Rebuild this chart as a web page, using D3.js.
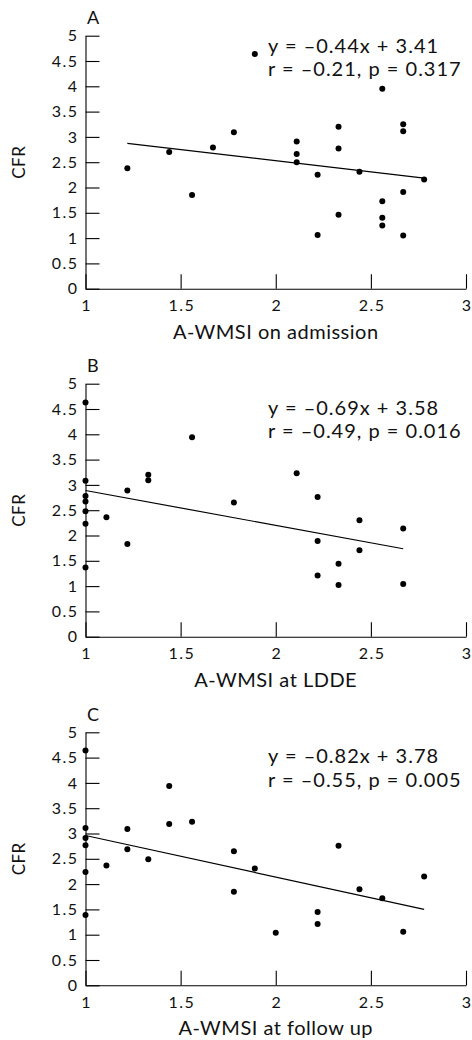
<!DOCTYPE html>
<html>
<head>
<meta charset="utf-8">
<script src="https://cdn.jsdelivr.net/npm/d3@7"></script>
<style>
  body { margin: 0; background: #fff; }
  svg { display: block; font-family: Lato, "Noto Sans", sans-serif; }
</style>
</head>
<body>
<script>
// CFR against A-WMSI, three time points
const panelLetters = ["A", "B", "C"];
const xTitles = ["A-WMSI on admission", "A-WMSI at LDDE", "A-WMSI at follow up"];
const yTitle = "CFR";
const xTicks = [1, 1.5, 2, 2.5, 3];
const yTicks = [0, 0.5, 1, 1.5, 2, 2.5, 3, 3.5, 4, 4.5, 5];

const admissionX = [1.22, 1.44, 1.56, 1.67, 1.78, 1.89, 2.11, 2.11, 2.11, 2.22, 2.22, 2.33, 2.33, 2.33, 2.44, 2.56, 2.56, 2.56, 2.56, 2.67, 2.67, 2.67, 2.67, 2.78];
const admissionCFR = [2.38, 2.70, 1.85, 2.79, 3.09, 4.64, 2.91, 2.66, 2.50, 2.25, 1.06, 3.20, 2.77, 1.46, 2.31, 3.95, 1.73, 1.40, 1.25, 3.25, 3.11, 1.91, 1.05, 2.16];

const lddeX = [1, 1, 1, 1, 1, 1, 1, 1.11, 1.22, 1.22, 1.33, 1.33, 1.56, 1.78, 2.11, 2.22, 2.22, 2.22, 2.33, 2.33, 2.44, 2.44, 2.67, 2.67];
const lddeCFR = [4.63, 3.08, 2.78, 2.67, 2.48, 2.23, 1.37, 2.36, 2.89, 1.83, 3.20, 3.09, 3.94, 2.65, 3.23, 2.76, 1.89, 1.21, 1.44, 1.02, 2.30, 1.71, 2.14, 1.04];

const followX = [1, 1, 1, 1, 1, 1, 1.11, 1.22, 1.22, 1.33, 1.44, 1.44, 1.56, 1.78, 1.78, 1.89, 2.00, 2.22, 2.22, 2.33, 2.44, 2.56, 2.67, 2.78];
const followCFR = [4.64, 3.11, 2.91, 2.77, 2.24, 1.39, 2.37, 3.09, 2.69, 2.49, 3.94, 3.19, 3.23, 2.65, 1.85, 2.31, 1.04, 1.45, 1.21, 2.76, 1.90, 1.72, 1.06, 2.15];

const slopes = [-0.44, -0.69, -0.82];
const intercepts = [3.41, 3.58, 3.78];
const fitText = ["y = \u20130.44x + 3.41", "y = \u20130.69x + 3.58", "y = \u20130.82x + 3.78"];
const statText = ["r = \u20130.21, p = 0.317", "r = \u20130.49, p = 0.016", "r = \u20130.55, p = 0.005"];

const xsAll = [admissionX, lddeX, followX];
const ysAll = [admissionCFR, lddeCFR, followCFR];

const width = 472, height = 1040;
const left = 85.5, right = 466;
const bottoms = [288.7, 636.7, 985.3];
const plotH = 253;
const noteOffset = [17, 31, 31];

const svg = d3.select("body").append("svg")
  .attr("width", width)
  .attr("height", height);

panelLetters.forEach((letter, i) => {
  const y0 = bottoms[i];
  const x = d3.scaleLinear().domain([1, 3]).range([left, right]);
  const y = d3.scaleLinear().domain([0, 5]).range([y0, y0 - plotH]);
  const g = svg.append("g");

  const yAxis = g.append("g")
    .attr("transform", `translate(${left},0)`)
    .call(d3.axisLeft(y).tickValues(yTicks).tickSizeInner(-14).tickSizeOuter(0)
      .tickPadding(7).tickFormat(d3.format("")));
  const xAxis = g.append("g")
    .attr("transform", `translate(0,${y0})`)
    .call(d3.axisBottom(x).tickValues(xTicks).tickSizeInner(-14.5).tickSizeOuter(0)
      .tickFormat(d3.format("")));

  [yAxis, xAxis].forEach(a => {
    a.selectAll("path, line").attr("stroke", "#000").attr("stroke-width", 1.1);
    a.selectAll("text")
      .attr("fill", "#111")
      .style("font-size", "16px")
      .style("letter-spacing", "1.5px")
      .style("font-family", "Lato, sans-serif");
  });
  xAxis.selectAll(".tick text").attr("y", 22.5).attr("dy", null).attr("dx", 0.75);

  // regression line over the data range
  const xs = xsAll[i], ys = ysAll[i];
  const [xmin, xmax] = d3.extent(xs);
  g.append("line")
    .attr("x1", x(xmin)).attr("y1", y(slopes[i] * xmin + intercepts[i]))
    .attr("x2", x(xmax)).attr("y2", y(slopes[i] * xmax + intercepts[i]))
    .attr("stroke", "#000")
    .attr("stroke-width", 1.2);

  g.selectAll("circle")
    .data(xs.map((v, j) => [v, ys[j]]))
    .enter()
    .append("circle")
    .attr("cx", d => x(d[0]))
    .attr("cy", d => y(d[1]))
    .attr("r", 3)
    .attr("fill", "#000");

  g.append("text")
    .attr("x", 87)
    .attr("y", y(5) - 11.5)
    .style("font-size", "18px")
    .attr("fill", "#111")
    .text(letter);

  const note = g.append("text")
    .attr("x", 268)
    .attr("y", y(5) + noteOffset[i])
    .style("font-size", "20px")
    .style("letter-spacing", "1px")
    .attr("fill", "#111");
  note.append("tspan").attr("x", 268).text(fitText[i]);
  note.append("tspan").attr("x", 268).attr("dy", 23.3).text(statText[i]);

  g.append("text")
    .attr("x", (left + right) / 2)
    .attr("y", y0 + 50)
    .attr("text-anchor", "middle")
    .style("font-size", "20px")
    .style("letter-spacing", "0.5px")
    .attr("fill", "#111")
    .text(xTitles[i]);

  g.append("text")
    .attr("transform", `translate(25,${y(2.5)}) rotate(-90)`)
    .attr("text-anchor", "middle")
    .style("font-size", "17px")
    .style("letter-spacing", "0.5px")
    .attr("fill", "#111")
    .text(yTitle);
});
</script>
</body>
</html>
